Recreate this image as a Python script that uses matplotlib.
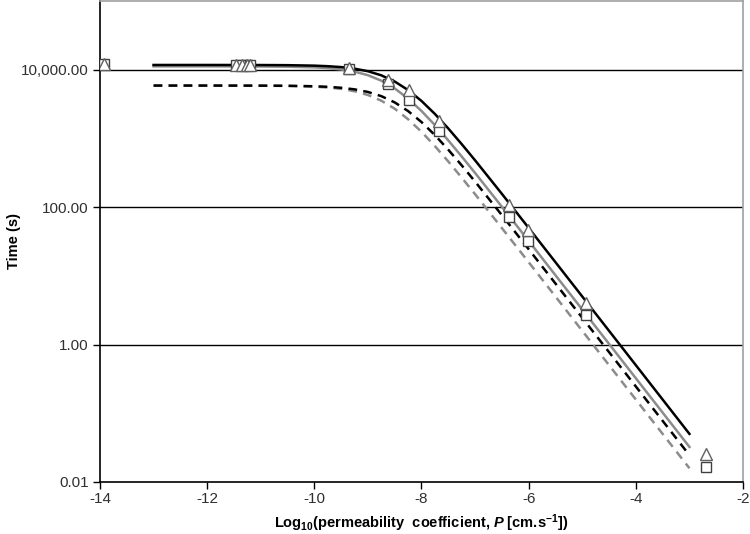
import numpy as np
import matplotlib
matplotlib.use("Agg")
import matplotlib.pyplot as plt
from matplotlib.ticker import FixedLocator, NullLocator

plt.rcParams['font.family'] = ['Liberation Sans', 'DejaVu Sans']
plt.rcParams['mathtext.fontset'] = 'custom'
plt.rcParams['mathtext.rm'] = 'Liberation Sans:bold'
plt.rcParams['mathtext.it'] = 'Liberation Sans:bold:italic'
plt.rcParams['mathtext.bf'] = 'Liberation Sans:bold'

# ---- data (log10 of permeability, log10 of time) ----
curve_x = [-13, -12, -11, -10.5, -10, -9.75, -9.5, -9.25, -9, -8.75, -8.5, -8.25,
           -8, -7.75, -7.5, -7.25, -7, -6.5, -6, -5, -4, -3]
black_solid_logt = [4.070, 4.070, 4.069, 4.067, 4.060, 4.052, 4.039, 4.016, 3.979, 3.919,
                    3.829, 3.705, 3.546, 3.357, 3.145, 2.918, 2.682, 2.194, 1.698, 0.700,
                    -0.300, -1.300]
gray_solid_logt = [4.050, 4.050, 4.048, 4.045, 4.035, 4.024, 4.005, 3.973, 3.921, 3.841,
                   3.729, 3.580, 3.400, 3.195, 2.972, 2.738, 2.498, 2.006, 1.509, 0.510,
                   -0.490, -1.490]
black_dash_logt = [3.770, 3.770, 3.769, 3.767, 3.760, 3.752, 3.738, 3.715, 3.677, 3.616,
                   3.525, 3.399, 3.239, 3.049, 2.836, 2.609, 2.372, 1.884, 1.388, 0.390,
                   -0.610, -1.610]
gray_dash_logt = [3.770, 3.770, 3.768, 3.765, 3.754, 3.742, 3.722, 3.688, 3.633, 3.550,
                  3.433, 3.280, 3.097, 2.889, 2.665, 2.430, 2.189, 1.696, 1.199, 0.200,
                  -0.800, -1.800]

marker_x = [-13.93, -11.46, -11.35, -11.26, -11.2, -9.36, -8.62, -8.24, -7.68,
            -6.36, -6.02, -4.93, -2.69]
triangle_logt = [4.09, 4.07, 4.07, 4.07, 4.07, 4.02, 3.855, 3.70, 3.26,
                 2.03, 1.667, 0.61, -1.594]
square_logt = [4.09, 4.07, 4.07, 4.07, 4.07, 4.01, 3.80, 3.565, 3.115,
               1.855, 1.507, 0.435, -1.78]

ytick_vals = [0.01, 1, 100, 10000]
ytick_labels = ['0.01', '1.00', '100.00', '10,000.00']
xtick_vals = [-14, -12, -10, -8, -6, -4, -2]

fig = plt.figure(figsize=(7.5, 5.34), dpi=100)
ax = fig.add_axes([0.1333, 0.0974, 0.8574, 0.9006])

cx = np.array(curve_x)
ax.plot(cx, 10 ** np.array(gray_dash_logt), color='#8c8c8c', lw=1.8,
        dashes=(3.5, 2.5), zorder=3)
ax.plot(cx, 10 ** np.array(black_dash_logt), color='black', lw=1.8,
        dashes=(3.5, 2.5), zorder=3)
ax.plot(cx, 10 ** np.array(gray_solid_logt), color='#8c8c8c', lw=1.8, zorder=3)
ax.plot(cx, 10 ** np.array(black_solid_logt), color='black', lw=1.8, zorder=3)

mx = np.array(marker_x)
ax.plot(mx, 10 ** np.array(square_logt), ls='none', marker='s', ms=7.5,
        mfc='white', mec='#404040', mew=1.0, zorder=4)
ax.plot(mx, 10 ** np.array(triangle_logt), ls='none', marker='^', ms=9,
        mfc='white', mec='#606060', mew=1.0, zorder=5)

ax.set_yscale('log')
ax.set_xlim(-14, -2)
ax.set_ylim(0.01, 1e5)
ax.yaxis.set_major_locator(FixedLocator(ytick_vals))
ax.yaxis.set_minor_locator(NullLocator())
ax.set_yticklabels(ytick_labels)
ax.set_xticks(xtick_vals)
ax.set_xticklabels([str(v) for v in xtick_vals])

for v in ytick_vals[1:]:
    ax.axhline(v, color='black', lw=1.0, zorder=1)

ax.tick_params(axis='both', direction='out', length=5, width=1.0,
               labelsize=11, colors='black', labelcolor='#303030')
ax.tick_params(axis='x', pad=2)
ax.tick_params(axis='y', pad=3)

for s in ['left', 'bottom']:
    ax.spines[s].set_color('black')
    ax.spines[s].set_linewidth(1.2)
for s in ['top', 'right']:
    ax.spines[s].set_color('#a0a0a0')
    ax.spines[s].set_linewidth(1.2)

fig.text(421 / 750, 1 - 523 / 534,
         r'Log$_{10}$(permeability  coefficient, $P$ [cm.s$^{-1}$])',
         fontsize=10.5, fontweight='bold', ha='center', va='center')
fig.text(14 / 750, 1 - 241 / 534, 'Time (s)', fontsize=10.5, fontweight='bold',
         rotation=90, ha='center', va='center')

fig.savefig('out.png', dpi=100)
